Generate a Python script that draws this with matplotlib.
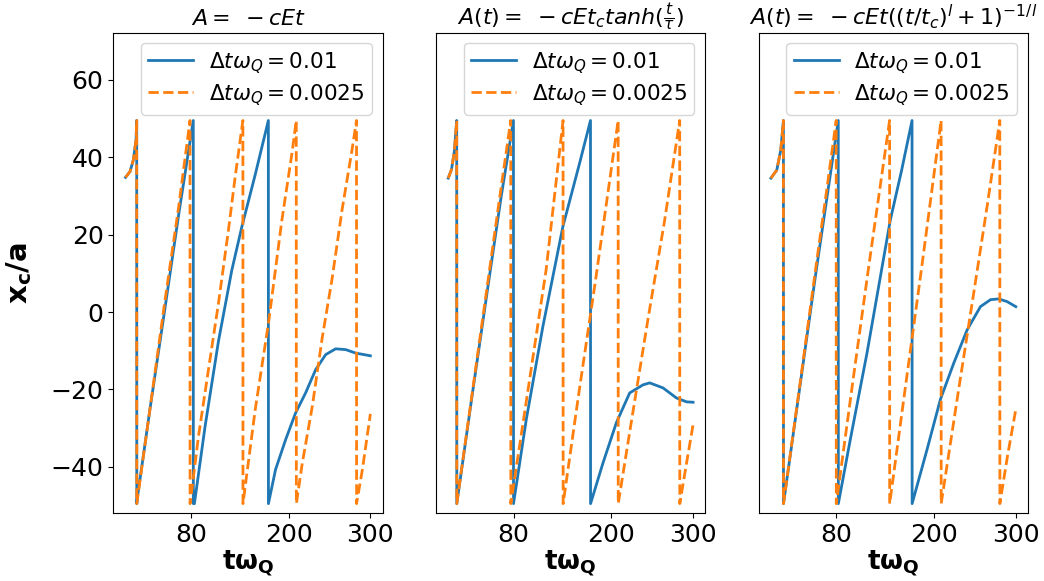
import matplotlib
matplotlib.use("Agg")
import matplotlib.pyplot as plt

# x_c(t), wrapped into the periodic box [-49.5, 49.5]
# panel 1: A = -cEt
t_lin_fine = [0, 5.5, 9.6, 12.9, 13.7, 13.8, 14.5, 30, 48, 65, 83.0, 83.1,
              84.4, 97.5, 113.9, 130.3, 142.6, 158.9, 175.0, 175.1,
              183.8, 196.1, 208.3, 220.6, 232.9, 245.2, 257.4, 269.7, 282, 300]
x_lin_fine = [34.8, 36.3, 39.3, 44.5, 49.5, -49.5, -48.0, -25.0, 0.5, 25.0, 49.5, -49.5,
              -49.5, -29.5, -7.5, 10.9, 22.1, 35.5, 49.5, -49.5,
              -40.7, -33.0, -26.1, -20.9, -14.9, -11.0, -9.5, -9.7, -10.6, -11.3]
t_lin_coarse = [0, 5.5, 9.6, 12.9, 13.7, 13.8, 30, 48, 65, 79.0, 79.1,
                89.4, 101.6, 113.9, 126.1, 134.4, 143.8, 143.9,
                158.9, 175.2, 191.6, 203.9, 209.2, 209.3,
                216.6, 228.8, 241.1, 253, 265.3, 277.5, 283.0, 283.1, 290.2, 300]
x_lin_coarse = [34.8, 36.3, 39.3, 44.5, 49.5, -49.5, -25.0, 2.5, 27.0, 49.5, -49.5,
                -32.1, -14.9, 2.3, 21.2, 35.0, 49.5, -49.5,
                -25.2, -2.8, 23.8, 41.0, 49.5, -49.5,
                -39.0, -24.4, -6.5, 8.5, 26.4, 41.9, 49.5, -49.5, -40.7, -26.3]

# panel 2: A(t) = -cEt_c tanh(t/tau)
t_tanh_fine = [0, 4, 7.5, 10.4, 10.5, 30, 50, 65, 79.9, 80.0,
               95.6, 116, 140.5, 161, 174.3, 174.4,
               189.6, 206, 222.3, 238.7, 246.9, 263.2, 279.6, 292, 300]
x_tanh_fine = [34.6, 36.8, 41.5, 49.5, -49.5, -20.5, 8.5, 30.0, 49.5, -49.5,
               -27.8, -3.7, 22.1, 38.5, 49.5, -49.5,
               -39.0, -28.6, -20.9, -18.8, -18.3, -19.6, -22.2, -23.2, -23.3]
t_tanh_coarse = [0, 4, 7.5, 10.4, 10.5, 30, 50, 63, 76.6, 76.7,
                 100, 120, 140.7, 140.8, 160, 180, 208.2, 208.3,
                 225, 245, 265, 283.6, 283.7, 292, 300]
x_tanh_coarse = [34.6, 36.8, 41.5, 49.5, -49.5, -20.0, 10.0, 29.5, 49.5, -49.5,
                 -17.0, 11.0, 49.5, -49.5, -21.0, 7.5, 49.5, -49.5,
                 -27.5, -1.5, 23.5, 49.5, -49.5, -39.0, -29.1]

# panel 3: A(t) = -cEt((t/t_c)^l + 1)^(-1/l)
t_pow_fine = [0, 7.2, 12.1, 15.3, 15.4, 35, 55, 70, 82.5, 82.6,
              97.2, 117.7, 146.3, 160, 172.9, 173.0,
              191.3, 207.6, 224, 240.4, 256.7, 269, 279.1, 289.4, 300]
x_pow_fine = [34.6, 36.7, 41.9, 49.5, -49.5, -20.0, 10.0, 31.5, 49.5, -49.5,
              -33.0, -10.6, 23.8, 36.5, 49.5, -49.5,
              -35.5, -22.6, -13.2, -4.6, 1.4, 3.2, 3.4, 2.7, 1.4]
t_pow_coarse = [0, 7.2, 12.1, 15.3, 15.4, 35, 55, 68, 80.0, 80.1,
                100, 120, 145.4, 145.5, 165, 185, 208.5, 208.6,
                230, 250, 265, 280.4, 280.5, 290, 300]
x_pow_coarse = [34.6, 36.7, 41.9, 49.5, -49.5, -19.5, 11.5, 31.0, 49.5, -49.5,
                -18.5, 12.0, 49.5, -49.5, -19.0, 12.0, 49.5, -49.5,
                -20.0, 7.0, 27.5, 49.5, -49.5, -37.0, -25.2]

titles = [r"$A = \;-cEt$",
          r"$A(t) = \;-cEt_ctanh(\frac{t}{\tau})$",
          r"$A(t) = \;-cEt((t/t_c)^l+1)^{-1/l}$"]
panels = [
    (t_lin_fine, x_lin_fine, t_lin_coarse, x_lin_coarse),
    (t_tanh_fine, x_tanh_fine, t_tanh_coarse, x_tanh_coarse),
    (t_pow_fine, x_pow_fine, t_pow_coarse, x_pow_coarse),
]
x_ticks = [80, 200, 300]

fig = plt.figure(figsize=(10.44, 5.81), dpi=100)
lefts = [0.1085, 0.4176, 0.7267]

for i, (tf, xf, tc, xc) in enumerate(panels):
    ax = fig.add_axes([lefts[i], 0.1165, 0.258, 0.826])
    ax.plot(tf, xf, color="#1f77b4", linewidth=2.0, label=r"$\Delta t\omega_Q=0.01$")
    ax.plot(tc, xc, color="#ff7f0e", linewidth=2.0, linestyle="--",
            label=r"$\Delta t\omega_Q=0.0025$")
    ax.set_xlim(-15, 315)
    ax.set_ylim(-52, 72)
    ax.set_xticks(x_ticks)
    ax.tick_params(labelsize=18)
    ax.set_title(titles[i], fontsize=16)
    ax.set_xlabel(r"$\mathbf{t\omega_Q}$", fontsize=19, labelpad=1)
    if i == 0:
        ax.set_ylabel(r"$\mathbf{x_c/a}$", fontsize=21, labelpad=12)
    else:
        ax.set_yticks([])
    ax.legend(loc="upper right", bbox_to_anchor=(0.959, 0.98), borderaxespad=0,
              fontsize=15.5, borderpad=0.33, labelspacing=0.3,
              handlelength=2.1, handletextpad=0.73)

fig.savefig("out.png", dpi=100)
